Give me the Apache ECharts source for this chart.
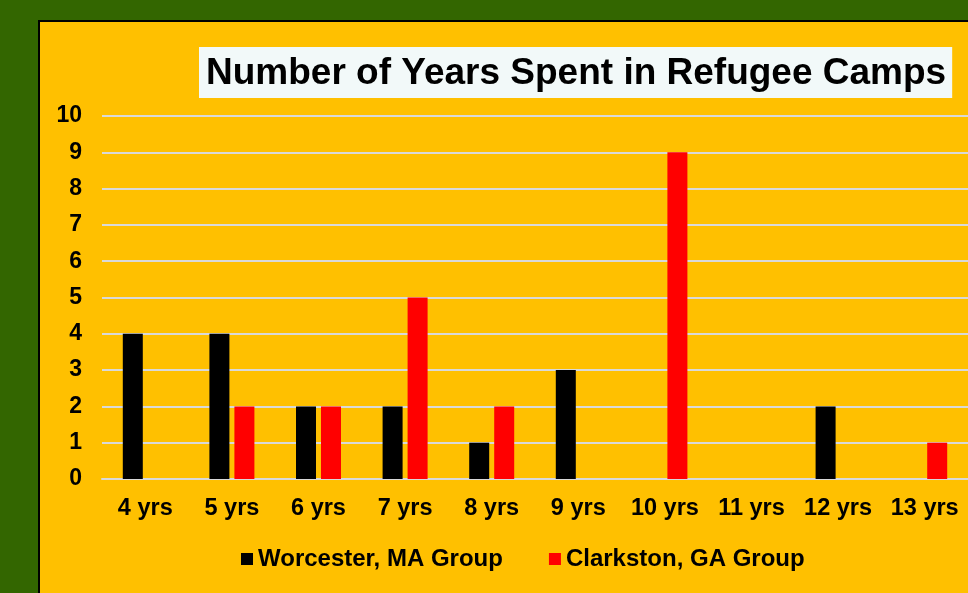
<!DOCTYPE html>
<html>
<head>
<meta charset="utf-8">
<script src="https://cdn.jsdelivr.net/npm/echarts@6/dist/echarts.min.js"></script>
<style>
html, body { margin: 0; padding: 0; background: #336600; }
#chart { width: 968px; height: 593px; }
</style>
</head>
<body>
<div id="chart"></div>
<script>
var categories = ['4 yrs', '5 yrs', '6 yrs', '7 yrs', '8 yrs', '9 yrs', '10 yrs', '11 yrs', '12 yrs', '13 yrs'];
var worcester = [4, 4, 2, 2, 1, 3, 0, 0, 2, 0];
var clarkston = [0, 2, 2, 5, 2, 0, 9, 0, 0, 1];
var yTicks = [0, 10, 1]; // min, max, interval

var font = '"Liberation Sans", Arial, sans-serif';
var chart = echarts.init(document.getElementById('chart'));

chart.setOption({
    animation: false,
    backgroundColor: '#336600',
    graphic: [{
        type: 'rect',
        left: 38, top: 20, z: -10,
        shape: { width: 960, height: 600 },
        style: { fill: '#FFC000', stroke: '#000', lineWidth: 2 }
    }],
    title: {
        text: 'Number of Years Spent in Refugee Camps',
        left: 199, top: 47,
        backgroundColor: '#F2F9F9',
        padding: [8, 6, 6, 7],
        textStyle: { fontFamily: font, fontWeight: 'bold', fontSize: 37, lineHeight: 37, color: '#000' }
    },
    legend: {
        top: 542,
        left: 236,
        icon: 'rect',
        itemWidth: 12, itemHeight: 12,
        itemGap: 46,
        textStyle: { fontFamily: font, fontWeight: 'bold', fontSize: 24, color: '#000' },
        data: ['Worcester, MA Group', 'Clarkston, GA Group']
    },
    grid: { left: 102, right: -1, top: 116, bottom: 114, containLabel: false },
    xAxis: {
        type: 'category',
        data: categories,
        axisTick: { show: false },
        axisLine: { lineStyle: { color: '#D9D9D9', width: 2 } },
        axisLabel: { interval: 0, fontFamily: font, fontWeight: 'bold', fontSize: 23.5, color: '#000', margin: 18 }
    },
    yAxis: {
        type: 'value',
        min: yTicks[0], max: yTicks[1], interval: yTicks[2],
        axisLabel: { fontFamily: font, fontWeight: 'bold', fontSize: 23, color: '#000', margin: 20 },
        splitLine: { lineStyle: { color: '#D9D9D9', width: 2 } }
    },
    series: [{
        name: 'Worcester, MA Group',
        type: 'bar',
        data: worcester,
        barWidth: 20,
        barGap: '25%',
        itemStyle: { color: '#000000' }
    }, {
        name: 'Clarkston, GA Group',
        type: 'bar',
        data: clarkston,
        barWidth: 20,
        itemStyle: { color: '#FF0000' }
    }]
});
</script>
</body>
</html>
